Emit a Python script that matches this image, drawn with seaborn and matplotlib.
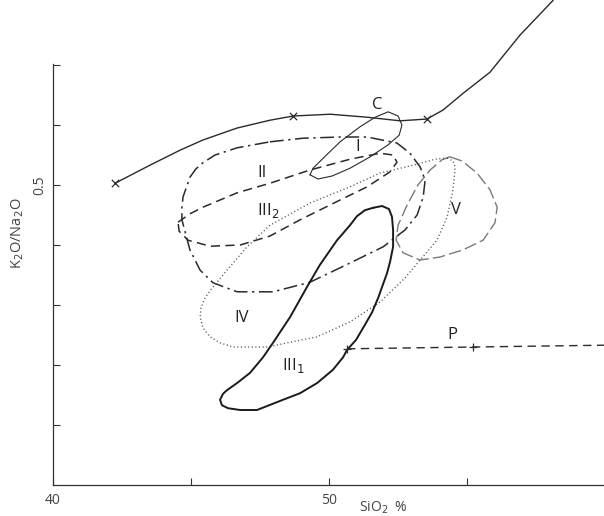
import matplotlib
matplotlib.use("Agg")
import matplotlib.pyplot as plt
import pandas as pd
import seaborn as sns

sns.set_theme(style="white")
plt.rcParams['font.family'] = ['Open Sans', 'DejaVu Sans']

# Differentiation trend (solid line, × marks on sampled points)
trend_sio2 = [42.25, 43.51, 44.60, 45.43, 46.67, 47.86, 48.70, 50.04, 51.38,
              52.57, 53.55, 54.13, 54.86, 55.83, 56.92, 58.12]
trend_ratio = [0.503, 0.533, 0.558, 0.575, 0.595, 0.608, 0.615, 0.618, 0.613,
               0.607, 0.610, 0.625, 0.653, 0.688, 0.750, 0.808]
trend_marked = [0, 6, 10]

# Field C
c_sio2 = [49.31, 49.42, 49.86, 50.40, 51.12, 51.67, 52.14, 52.50, 52.64, 52.54,
          52.14, 51.49, 50.76, 50.11, 49.60]
c_ratio = [0.517, 0.528, 0.548, 0.572, 0.597, 0.613, 0.622, 0.615, 0.600, 0.583,
           0.567, 0.547, 0.528, 0.515, 0.510]

# Field I (dash-dot)
f1_sio2 = [47.86, 49.06, 50.40, 51.38, 52.46, 52.93, 53.30, 53.48, 53.41, 53.19,
           52.75, 51.96, 50.76, 49.31, 47.97, 46.67, 45.80, 45.33, 44.96, 44.67,
           44.67, 44.71, 44.96, 45.18, 45.43, 45.87, 46.67]
f1_ratio = [0.572, 0.578, 0.580, 0.580, 0.570, 0.553, 0.530, 0.508, 0.480, 0.450,
            0.425, 0.397, 0.370, 0.338, 0.322, 0.322, 0.337, 0.358, 0.392, 0.442,
            0.462, 0.480, 0.513, 0.527, 0.537, 0.550, 0.562]

# Field II / III2 (dashed)
f2_sio2 = [44.53, 44.96, 45.43, 46.67, 47.86, 49.31, 50.76, 51.85, 52.32, 52.46,
           52.21, 51.38, 50.40, 48.95, 47.86, 46.78, 45.69, 44.89, 44.57]
f2_ratio = [0.438, 0.452, 0.463, 0.487, 0.503, 0.525, 0.543, 0.553, 0.550, 0.538,
            0.522, 0.497, 0.475, 0.442, 0.415, 0.400, 0.398, 0.408, 0.423]

# Field V (long dashes, grey)
f5_sio2 = [54.38, 54.82, 55.36, 55.83, 56.09, 56.01, 55.58, 54.86, 54.02, 53.30,
           52.68, 52.43, 52.50, 52.83, 53.22, 53.66, 54.09]
f5_ratio = [0.547, 0.540, 0.520, 0.492, 0.463, 0.437, 0.408, 0.392, 0.380, 0.375,
            0.387, 0.408, 0.433, 0.467, 0.500, 0.525, 0.542]

# Field IV (dotted)
f4_sio2 = [54.28, 54.49, 54.57, 54.49, 54.28, 53.91, 53.30, 52.75, 51.85, 50.76,
           49.57, 47.75, 46.52, 46.05, 45.69, 45.43, 45.33, 45.36, 45.51, 45.76,
           46.30, 47.03, 47.86, 49.31, 50.76, 51.85, 53.04, 53.84]
f4_ratio = [0.545, 0.540, 0.530, 0.492, 0.447, 0.408, 0.375, 0.345, 0.305, 0.272,
            0.247, 0.230, 0.230, 0.237, 0.247, 0.262, 0.280, 0.295, 0.312, 0.328,
            0.358, 0.397, 0.433, 0.470, 0.497, 0.520, 0.533, 0.543]

# Field III1 (heavy solid)
f3_sio2 = [51.59, 51.92, 52.17, 52.28, 52.32, 52.32, 52.21, 52.10, 51.92, 51.78,
           51.56, 51.30, 50.98, 50.65, 50.51, 50.14, 49.57, 48.95, 48.33, 47.39,
           46.78, 46.34, 46.12, 46.05, 46.16, 46.30, 46.67, 47.14, 47.61, 47.97,
           48.59, 49.20, 49.67, 50.29, 50.76, 51.01, 51.30]
f3_ratio = [0.462, 0.465, 0.460, 0.447, 0.425, 0.397, 0.372, 0.353, 0.330, 0.312,
            0.288, 0.267, 0.242, 0.225, 0.213, 0.192, 0.170, 0.153, 0.142, 0.125,
            0.125, 0.128, 0.133, 0.142, 0.152, 0.158, 0.170, 0.187, 0.213, 0.237,
            0.280, 0.330, 0.367, 0.408, 0.433, 0.448, 0.458]

# Line P (dashed, + marks)
p_sio2 = [50.65, 55.22, 59.96]
p_ratio = [0.227, 0.230, 0.233]

# Field labels
labels = ["C", "I", "II", "III$_2$", "V", "IV", "III$_1$", "P"]
label_sio2 = [51.74, 51.05, 47.57, 47.79, 54.60, 46.85, 48.70, 54.46]
label_ratio = [0.633, 0.563, 0.520, 0.458, 0.458, 0.278, 0.200, 0.250]

x_ticks = [40, 45, 50, 55]
x_ticklabels = ["40", "", "50", ""]
y_ticks = [0.1, 0.2, 0.3, 0.4, 0.5, 0.6, 0.7]
y_ticklabels = ["", "", "", "", "0.5", "", ""]

fig = plt.figure(figsize=(6.04, 5.16), dpi=100)
ax = fig.add_axes([53 / 604, 31 / 516, 551 / 604, 421 / 516])


def closed(xs, ys):
    return pd.DataFrame({"sio2": list(xs) + [xs[0]], "ratio": list(ys) + [ys[0]]})


ink = "#2a2a2a"


def draw(df, **kw):
    sns.lineplot(data=df, x="sio2", y="ratio", sort=False, estimator=None,
                 ax=ax, solid_capstyle="round", solid_joinstyle="round",
                 dash_capstyle="butt", **kw)


draw(pd.DataFrame({"sio2": trend_sio2, "ratio": trend_ratio}),
     color=ink, lw=1.0, clip_on=False)
ax.scatter([trend_sio2[i] for i in trend_marked],
           [trend_ratio[i] for i in trend_marked],
           marker="x", s=28, color=ink, linewidths=0.9, zorder=5)

draw(closed(c_sio2, c_ratio), color=ink, lw=0.8)
draw(closed(f1_sio2, f1_ratio), color=ink, lw=1.1, linestyle=(0, (9, 3, 1.5, 3)))
draw(closed(f2_sio2, f2_ratio), color=ink, lw=1.1, linestyle=(0, (6, 3.5)))
draw(closed(f5_sio2, f5_ratio), color="#7a7a7a", lw=1.0, linestyle=(0, (9, 3)))
draw(closed(f4_sio2, f4_ratio), color="#555555", lw=1.0, linestyle=(0, (0.8, 1.8)))
draw(closed(f3_sio2, f3_ratio), color="#1a1a1a", lw=1.4)

draw(pd.DataFrame({"sio2": p_sio2, "ratio": p_ratio}), color=ink, lw=1.0,
     linestyle=(0, (6, 4)), clip_on=False)
ax.scatter(p_sio2[:2], p_ratio[:2], marker="+", s=40, color=ink,
           linewidths=0.9, zorder=5)

for text, sx, ry in zip(labels, label_sio2, label_ratio):
    ax.text(sx, ry, text, ha="center", va="center", fontsize=12,
            color="#222222")

ax.set_xlim(40, 59.96)
ax.set_ylim(0, 0.7017)
ax.set_xticks(x_ticks)
ax.set_xticklabels(x_ticklabels)
ax.set_yticks(y_ticks)
ax.set_yticklabels(y_ticklabels, rotation=90, va="center")
ax.tick_params(axis="both", direction="in", length=5, width=0.8, color="#333333",
               labelsize=10, labelcolor="#444444", bottom=True, left=True)
ax.tick_params(axis="x", pad=6)
ax.tick_params(axis="y", pad=4)
ax.set_xlabel("")
ax.set_ylabel("")
for side in ("top", "right"):
    ax.spines[side].set_visible(False)
for side in ("left", "bottom"):
    ax.spines[side].set_color("#333333")
    ax.spines[side].set_linewidth(0.9)

fig.text(383 / 604, 1 - 508 / 516, "SiO$_2$  %", ha="center", va="center",
         fontsize=10, color="#444444")
fig.text(18 / 604, 1 - 233 / 516, "K$_2$O/Na$_2$O", ha="center", va="center",
         rotation=90, fontsize=10.5, color="#444444")

fig.savefig("out.png", dpi=100, facecolor="white")
